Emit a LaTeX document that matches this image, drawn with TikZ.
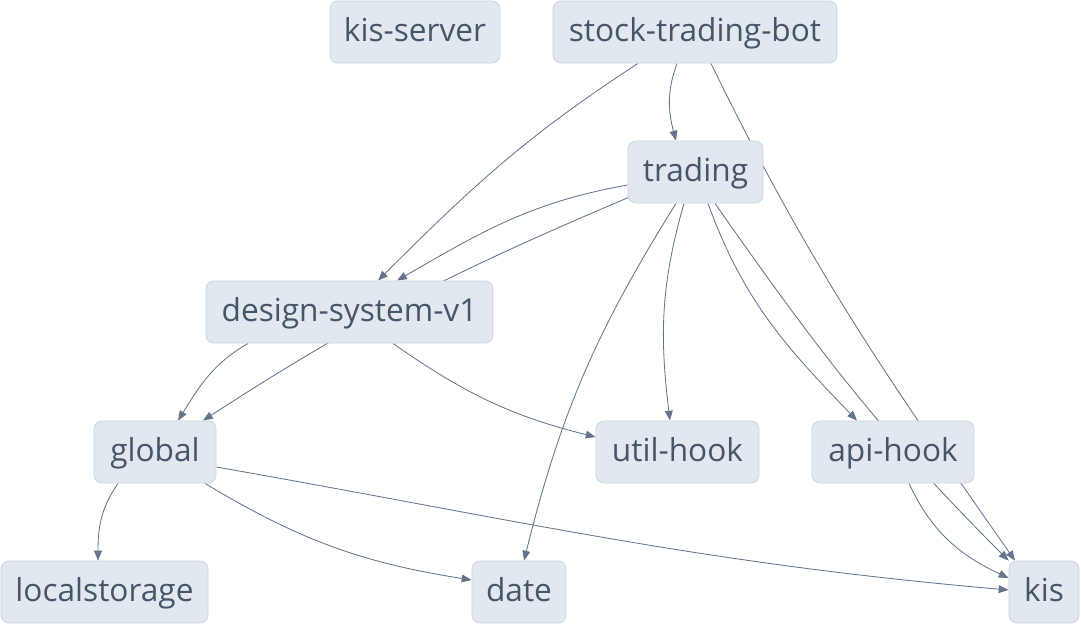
\documentclass[tikz,border=0pt]{standalone}
\usepackage{fontspec}
\setmainfont{Open Sans}
\usepackage{tikz}
\usetikzlibrary{positioning, arrows.meta, calc, backgrounds}
\definecolor{pkgfill}{HTML}{E2E8F0}
\definecolor{pkgline}{HTML}{CBD5E1}
\definecolor{pkgtext}{HTML}{475569}
\definecolor{edgecol}{HTML}{64748B}
\tikzset{
  pkg/.style={rectangle, rounded corners=0.2cm, minimum height=1.55cm, inner xsep=0pt, inner ysep=0pt, text height=18.5pt, text depth=4.5pt, text centered, draw=pkgline, fill=pkgfill, text=pkgtext, line width=0.6pt, font=\fontsize{22.5}{27}\selectfont},
  dep/.style={draw=edgecol, line width=0.6pt, -{Triangle[length=7pt,width=5.5pt]}}
}

\begin{document}
\begin{tikzpicture}[x=0.025cm, y=-0.025cm]
    \useasboundingbox (0,0) rectangle (1081,625);

    \node (kisserver) [pkg, minimum width=4.25cm] at (415,32) {kis-server};
    \node (bot) [pkg, minimum width=7.1cm] at (695,32) {stock-trading-bot};
    \node (trading) [pkg, minimum width=3.375cm] at (695.5,172) {trading};
    \node (dsys) [pkg, minimum width=7.175cm] at (349.5,312) {design-system-v1};
    \node (global) [pkg, minimum width=3.05cm] at (155,452) {global};
    \node (util) [pkg, minimum width=4.075cm] at (677.5,452) {util-hook};
    \node (api) [pkg, minimum width=4.05cm] at (893,452) {api-hook};
    \node (lstore) [pkg, minimum width=5.175cm] at (104.5,592) {localstorage};
    \node (date) [pkg, minimum width=2.35cm] at (519,592) {date};
    \node (kis) [pkg, minimum width=1.75cm] at (1044,592) {kis};

    \begin{scope}[on background layer]
    % stock-trading-bot
    \draw [dep] ($(bot.south)+(-57,0)$) to[out=213,in=45] ($(dsys.north)+(28.5,0)$);
    \draw [dep] ($(bot.south)+(-18,0)$) to[out=250,in=105] ($(trading.north)+(-19.5,0)$);
    \draw [dep] ($(bot.south)+(16,0)$) to[out=-64,in=125] ($(kis.north)+(-29,0)$);

    % trading
    \draw [dep] ($(trading.west)+(0,13)$) to[out=190,in=30] ($(dsys.north)+(47.5,0)$);
    \draw [dep] ($(trading.west)+(2,25)$) to[out=203,in=33] ($(global.north)+(48,0)$);
    \draw [dep] ($(trading.south)+(-19.5,0)$) to[out=238,in=76] ($(date.north)+(5,0)$);
    \draw [dep] ($(trading.south)+(-11.5,0)$) to[out=254,in=97] ($(util.north)+(-7.5,0)$);
    \draw [dep] ($(trading.south)+(12.5,0)$) to[out=-70,in=134] ($(api.north)+(-36,0)$);
    \draw [dep] ($(trading.south)+(19.5,0)$) to[out=-55,in=135] (kis.north west);

    % design-system-v1
    \draw [dep] ($(dsys.south)+(-101.5,0)$) to[out=210,in=58] ($(global.north)+(23,0)$);
    \draw [dep] ($(dsys.south)+(43.5,0)$) to[out=-35,in=166] ($(util.west)+(0,-15)$);

    % global
    \draw [dep] ($(global.south)+(-37,0)$) to[out=235,in=90] ($(lstore.north)+(-6.5,0)$);
    \draw [dep] ($(global.south)+(50,0)$) to[out=-31,in=171] ($(date.west)+(0,-12)$);
    \draw [dep] ($(global.east)+(0,15)$) to[out=-10,in=175] ($(kis.west)+(0,-2)$);

    % api-hook
    \draw [dep] ($(api.south)+(16,0)$) to[out=-65,in=155] ($(kis.west)+(0,-14)$);
    \end{scope}

\end{tikzpicture}
\end{document}
